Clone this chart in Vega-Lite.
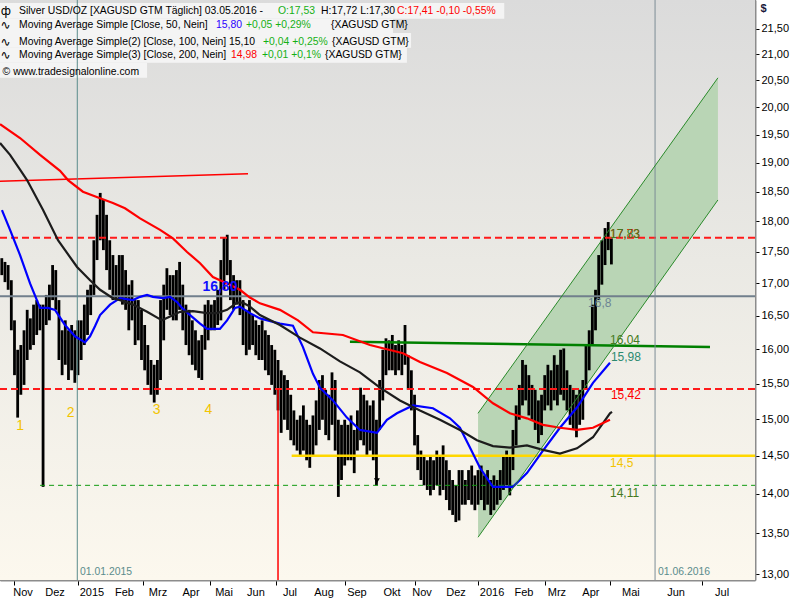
{
  "$schema": "https://vega.github.io/schema/vega-lite/v6.json",
  "width": 755,
  "height": 580,
  "autosize": "none",
  "padding": {"left": 0, "top": 0, "right": 45, "bottom": 20},
  "background": "#ffffff",
  "config": {"view": {"stroke": "#8c8c8c", "strokeWidth": 2}, "font": "Liberation Sans"},
  "datasets": {
    "bars": [
      {"t":-48,"h":17.40,"l":17.13},{"t":-46,"h":17.34,"l":17.02},{"t":-44,"h":17.29,"l":16.90},{"t":-42,"h":17.05,"l":16.28},
      {"t":-40,"h":16.43,"l":15.62},{"t":-38,"h":15.99,"l":15.02},{"t":-36,"h":16.06,"l":15.34},{"t":-34,"h":16.28,"l":15.48},
      {"t":-32,"h":16.59,"l":15.84},{"t":-30,"h":16.46,"l":15.99},{"t":-28,"h":16.67,"l":16.06},{"t":-26,"h":16.74,"l":16.21},
      {"t":-24,"h":16.67,"l":16.28},{"t":-22,"h":16.67,"l":14.09},{"t":-20,"h":16.82,"l":16.36},{"t":-18,"h":16.98,"l":16.43},
      {"t":-16,"h":17.29,"l":16.74},{"t":-14,"h":17.21,"l":16.59},{"t":-12,"h":16.74,"l":15.84},{"t":-10,"h":16.28,"l":15.62},
      {"t":-8,"h":16.43,"l":15.77},{"t":-6,"h":16.28,"l":15.55},{"t":-4,"h":16.36,"l":15.69},{"t":-2,"h":16.28,"l":15.51},
      {"t":0,"h":16.43,"l":15.62},{"t":2,"h":16.43,"l":15.84},{"t":4,"h":16.67,"l":16.06},{"t":6,"h":16.90,"l":16.21},
      {"t":8,"h":16.98,"l":16.51},{"t":10,"h":17.69,"l":16.82},{"t":12,"h":18.11,"l":17.37},{"t":14,"h":18.48,"l":17.69},
      {"t":16,"h":18.36,"l":17.53},{"t":18,"h":18.11,"l":17.21},{"t":20,"h":17.69,"l":16.90},{"t":22,"h":17.45,"l":16.74},
      {"t":24,"h":17.29,"l":16.74},{"t":26,"h":17.45,"l":16.74},{"t":28,"h":17.45,"l":16.67},{"t":30,"h":17.21,"l":16.59},
      {"t":32,"h":16.98,"l":16.28},{"t":34,"h":17.05,"l":16.43},{"t":36,"h":16.74,"l":16.06},{"t":38,"h":16.74,"l":16.13},
      {"t":40,"h":16.59,"l":15.84},{"t":42,"h":16.36,"l":15.69},{"t":44,"h":16.06,"l":15.48},{"t":46,"h":15.84,"l":15.34},
      {"t":48,"h":15.77,"l":15.23},{"t":50,"h":15.84,"l":15.34},{"t":52,"h":16.74,"l":15.55},{"t":54,"h":16.98,"l":16.13},
      {"t":56,"h":17.24,"l":16.59},{"t":58,"h":17.13,"l":16.51},{"t":60,"h":17.13,"l":16.43},{"t":62,"h":17.21,"l":16.43},
      {"t":64,"h":17.34,"l":16.59},{"t":66,"h":16.98,"l":16.28},{"t":68,"h":16.67,"l":16.06},{"t":70,"h":16.59,"l":15.91},
      {"t":72,"h":16.43,"l":15.77},{"t":74,"h":16.28,"l":15.69},{"t":76,"h":16.13,"l":15.58},{"t":78,"h":16.21,"l":15.55},
      {"t":80,"h":16.67,"l":15.99},{"t":82,"h":16.74,"l":16.13},{"t":84,"h":16.67,"l":16.28},{"t":86,"h":16.74,"l":16.28},
      {"t":88,"h":16.90,"l":16.36},{"t":90,"h":17.37,"l":16.43},{"t":92,"h":17.74,"l":16.90},{"t":94,"h":17.78,"l":17.13},
      {"t":96,"h":17.37,"l":16.74},{"t":98,"h":17.13,"l":16.59},{"t":100,"h":17.05,"l":16.67},{"t":102,"h":17.05,"l":16.51},
      {"t":104,"h":16.74,"l":16.06},{"t":106,"h":16.59,"l":15.91},{"t":108,"h":16.74,"l":15.99},{"t":110,"h":16.51,"l":16.06},
      {"t":112,"h":16.43,"l":15.91},{"t":114,"h":16.36,"l":15.84},{"t":116,"h":16.43,"l":15.84},{"t":118,"h":16.28,"l":15.69},
      {"t":120,"h":16.21,"l":15.62},{"t":122,"h":16.06,"l":15.48},{"t":124,"h":15.99,"l":15.34},{"t":126,"h":15.84,"l":15.12},
      {"t":128,"h":15.69,"l":14.81},{"t":130,"h":15.62,"l":14.99},{"t":132,"h":15.55,"l":14.85},{"t":134,"h":15.34,"l":14.71},
      {"t":136,"h":15.12,"l":14.64},{"t":138,"h":14.99,"l":14.57},{"t":140,"h":15.05,"l":14.50},{"t":142,"h":15.19,"l":14.57},
      {"t":144,"h":14.99,"l":14.44},{"t":146,"h":14.92,"l":14.34},{"t":148,"h":15.05,"l":14.50},{"t":150,"h":15.26,"l":14.64},
      {"t":152,"h":15.55,"l":14.85},{"t":154,"h":15.62,"l":14.99},{"t":156,"h":15.41,"l":14.78},{"t":158,"h":15.34,"l":14.71},
      {"t":160,"h":15.66,"l":14.92},{"t":162,"h":15.55,"l":14.57},{"t":164,"h":14.99,"l":13.96},{"t":166,"h":14.92,"l":14.18},
      {"t":168,"h":14.99,"l":14.37},{"t":170,"h":14.92,"l":14.44},{"t":172,"h":15.05,"l":14.44},{"t":174,"h":14.85,"l":14.27},
      {"t":176,"h":15.12,"l":14.57},{"t":178,"h":15.44,"l":14.71},{"t":180,"h":15.34,"l":14.64},{"t":182,"h":15.26,"l":14.50},
      {"t":184,"h":15.19,"l":14.57},{"t":186,"h":15.26,"l":14.44},{"t":188,"h":14.99,"l":14.11},{"t":190,"h":15.55,"l":14.85},
      {"t":192,"h":15.99,"l":15.26},{"t":194,"h":16.16,"l":15.62},{"t":196,"h":16.13,"l":15.69},{"t":198,"h":16.21,"l":15.69},
      {"t":200,"h":16.06,"l":15.62},{"t":202,"h":16.13,"l":15.69},{"t":204,"h":16.06,"l":15.62},{"t":206,"h":16.36,"l":15.77},
      {"t":208,"h":15.91,"l":15.41},{"t":210,"h":15.69,"l":15.12},{"t":212,"h":15.34,"l":14.64},{"t":214,"h":14.78,"l":14.31},
      {"t":216,"h":14.57,"l":14.18},{"t":218,"h":14.50,"l":14.11},{"t":220,"h":14.44,"l":14.05},{"t":222,"h":14.50,"l":13.98},
      {"t":224,"h":14.44,"l":14.05},{"t":226,"h":14.57,"l":14.11},{"t":228,"h":14.50,"l":13.98},{"t":230,"h":14.64,"l":14.05},
      {"t":232,"h":14.44,"l":13.92},{"t":234,"h":14.31,"l":13.79},{"t":236,"h":14.18,"l":13.73},{"t":238,"h":14.11,"l":13.64},
      {"t":240,"h":14.31,"l":13.66},{"t":242,"h":14.31,"l":13.86},{"t":244,"h":14.18,"l":13.86},{"t":246,"h":14.31,"l":13.92},
      {"t":248,"h":14.37,"l":13.86},{"t":250,"h":14.24,"l":13.79},{"t":252,"h":14.31,"l":13.86},{"t":254,"h":14.37,"l":13.92},
      {"t":256,"h":14.24,"l":13.79},{"t":258,"h":14.31,"l":13.86},{"t":260,"h":14.18,"l":13.73},{"t":262,"h":14.24,"l":13.79},
      {"t":264,"h":14.18,"l":13.86},{"t":266,"h":14.31,"l":13.92},{"t":268,"h":14.50,"l":14.05},{"t":270,"h":14.57,"l":14.11},
      {"t":272,"h":14.50,"l":13.98},{"t":274,"h":14.85,"l":14.31},{"t":276,"h":15.19,"l":14.64},{"t":278,"h":15.48,"l":14.99},
      {"t":280,"h":15.84,"l":15.19},{"t":282,"h":15.77,"l":15.26},{"t":284,"h":15.62,"l":15.05},{"t":286,"h":15.48,"l":14.99},
      {"t":288,"h":15.41,"l":14.85},{"t":290,"h":15.26,"l":14.67},{"t":292,"h":15.34,"l":14.78},{"t":294,"h":15.62,"l":15.12},
      {"t":296,"h":15.77,"l":15.19},{"t":298,"h":15.69,"l":15.12},{"t":300,"h":15.91,"l":15.26},{"t":302,"h":15.77,"l":15.19},
      {"t":304,"h":15.99,"l":15.34},{"t":306,"h":16.01,"l":15.26},{"t":308,"h":15.69,"l":15.12},{"t":310,"h":15.48,"l":14.92},
      {"t":312,"h":15.41,"l":14.85},{"t":314,"h":15.34,"l":14.75},{"t":316,"h":15.41,"l":14.92},{"t":318,"h":15.55,"l":14.99},
      {"t":320,"h":16.06,"l":15.41},{"t":322,"h":16.28,"l":15.69},{"t":324,"h":16.67,"l":16.06},{"t":326,"h":16.90,"l":16.28},
      {"t":328,"h":17.45,"l":16.74},{"t":330,"h":17.69,"l":16.98},{"t":332,"h":17.89,"l":17.29},{"t":334,"h":17.99,"l":17.53},
      {"t":336,"h":17.72,"l":17.30}
    ],
    "ma": [
      {"n":"SMA 50","t":-47.9,"p":18.19},{"n":"SMA 50","t":-42.8,"p":17.86},{"n":"SMA 50","t":-36.5,"p":17.45},{"n":"SMA 50","t":-30.2,"p":17.00},
      {"n":"SMA 50","t":-23.9,"p":16.62},{"n":"SMA 50","t":-18.9,"p":16.62},{"n":"SMA 50","t":-14.5,"p":16.59},{"n":"SMA 50","t":-8.2,"p":16.36},
      {"n":"SMA 50","t":-1.9,"p":16.19},{"n":"SMA 50","t":4.4,"p":16.10},{"n":"SMA 50","t":7.6,"p":16.19},{"n":"SMA 50","t":10.7,"p":16.34},
      {"n":"SMA 50","t":13.9,"p":16.51},{"n":"SMA 50","t":20.2,"p":16.67},{"n":"SMA 50","t":26.5,"p":16.77},{"n":"SMA 50","t":34.6,"p":16.74},
      {"n":"SMA 50","t":39.1,"p":16.79},{"n":"SMA 50","t":43.5,"p":16.82},{"n":"SMA 50","t":47.2,"p":16.79},{"n":"SMA 50","t":53.5,"p":16.77},
      {"n":"SMA 50","t":58.0,"p":16.79},{"n":"SMA 50","t":62.4,"p":16.71},{"n":"SMA 50","t":65.5,"p":16.62},{"n":"SMA 50","t":70.6,"p":16.51},
      {"n":"SMA 50","t":76.9,"p":16.38},{"n":"SMA 50","t":81.3,"p":16.30},{"n":"SMA 50","t":89.4,"p":16.30},{"n":"SMA 50","t":93.9,"p":16.43},
      {"n":"SMA 50","t":98.9,"p":16.62},{"n":"SMA 50","t":102.0,"p":16.64},{"n":"SMA 50","t":108.3,"p":16.54},{"n":"SMA 50","t":114.6,"p":16.46},
      {"n":"SMA 50","t":127.2,"p":16.38},{"n":"SMA 50","t":135.4,"p":16.35},{"n":"SMA 50","t":141.7,"p":16.03},{"n":"SMA 50","t":148.0,"p":15.64},
      {"n":"SMA 50","t":152.4,"p":15.44},{"n":"SMA 50","t":160.6,"p":15.26},{"n":"SMA 50","t":169.4,"p":15.02},{"n":"SMA 50","t":177.6,"p":14.85},
      {"n":"SMA 50","t":188.3,"p":14.81},{"n":"SMA 50","t":194.6,"p":14.99},{"n":"SMA 50","t":200.9,"p":15.08},{"n":"SMA 50","t":211.0,"p":15.19},
      {"n":"SMA 50","t":223.6,"p":15.15},{"n":"SMA 50","t":234.3,"p":15.01},{"n":"SMA 50","t":240.6,"p":14.88},{"n":"SMA 50","t":246.9,"p":14.61},
      {"n":"SMA 50","t":253.2,"p":14.34},{"n":"SMA 50","t":261.4,"p":14.09},{"n":"SMA 50","t":274.0,"p":14.09},{"n":"SMA 50","t":282.8,"p":14.27},
      {"n":"SMA 50","t":292.9,"p":14.57},{"n":"SMA 50","t":303.6,"p":14.88},{"n":"SMA 50","t":314.3,"p":15.16},{"n":"SMA 50","t":324.4,"p":15.51},
      {"n":"SMA 50","t":335.1,"p":15.80},
      {"n":"SMA 100","t":-49.1,"p":19.35},{"n":"SMA 100","t":-42.8,"p":19.14},{"n":"SMA 100","t":-36.5,"p":18.88},{"n":"SMA 100","t":-32.1,"p":18.70},
      {"n":"SMA 100","t":-22.0,"p":18.19},{"n":"SMA 100","t":-12.6,"p":17.69},{"n":"SMA 100","t":-0.6,"p":17.26},{"n":"SMA 100","t":7.6,"p":17.05},
      {"n":"SMA 100","t":13.9,"p":16.90},{"n":"SMA 100","t":22.0,"p":16.77},{"n":"SMA 100","t":26.5,"p":16.74},{"n":"SMA 100","t":34.6,"p":16.67},
      {"n":"SMA 100","t":43.5,"p":16.56},{"n":"SMA 100","t":52.9,"p":16.43},{"n":"SMA 100","t":58.0,"p":16.49},{"n":"SMA 100","t":64.3,"p":16.56},
      {"n":"SMA 100","t":72.4,"p":16.57},{"n":"SMA 100","t":81.3,"p":16.54},{"n":"SMA 100","t":87.6,"p":16.54},{"n":"SMA 100","t":93.9,"p":16.59},
      {"n":"SMA 100","t":100.2,"p":16.70},{"n":"SMA 100","t":103.9,"p":16.70},{"n":"SMA 100","t":108.3,"p":16.64},{"n":"SMA 100","t":114.6,"p":16.51},
      {"n":"SMA 100","t":127.2,"p":16.36},{"n":"SMA 100","t":139.8,"p":16.17},{"n":"SMA 100","t":152.4,"p":16.01},{"n":"SMA 100","t":165.0,"p":15.82},
      {"n":"SMA 100","t":177.6,"p":15.66},{"n":"SMA 100","t":190.2,"p":15.44},{"n":"SMA 100","t":202.8,"p":15.26},{"n":"SMA 100","t":215.4,"p":15.12},
      {"n":"SMA 100","t":228.0,"p":14.99},{"n":"SMA 100","t":240.6,"p":14.85},{"n":"SMA 100","t":251.3,"p":14.71},{"n":"SMA 100","t":261.4,"p":14.63},
      {"n":"SMA 100","t":272.1,"p":14.61},{"n":"SMA 100","t":282.8,"p":14.64},{"n":"SMA 100","t":292.9,"p":14.58},{"n":"SMA 100","t":303.6,"p":14.53},
      {"n":"SMA 100","t":314.3,"p":14.60},{"n":"SMA 100","t":324.4,"p":14.75},{"n":"SMA 100","t":335.1,"p":15.08},{"n":"SMA 100","t":336.4,"p":15.10},
      {"n":"SMA 200","t":-49.1,"p":19.69},{"n":"SMA 200","t":-36.5,"p":19.44},{"n":"SMA 200","t":-23.9,"p":19.14},{"n":"SMA 200","t":-11.3,"p":18.86},
      {"n":"SMA 200","t":-6.3,"p":18.70},{"n":"SMA 200","t":3.1,"p":18.50},{"n":"SMA 200","t":13.9,"p":18.39},{"n":"SMA 200","t":22.0,"p":18.31},
      {"n":"SMA 200","t":29.6,"p":18.22},{"n":"SMA 200","t":39.1,"p":18.05},{"n":"SMA 200","t":51.7,"p":17.86},{"n":"SMA 200","t":59.8,"p":17.72},
      {"n":"SMA 200","t":68.7,"p":17.50},{"n":"SMA 200","t":76.9,"p":17.32},{"n":"SMA 200","t":85.0,"p":17.10},{"n":"SMA 200","t":93.9,"p":17.00},
      {"n":"SMA 200","t":102.0,"p":16.90},{"n":"SMA 200","t":108.3,"p":16.78},{"n":"SMA 200","t":114.6,"p":16.69},{"n":"SMA 200","t":127.2,"p":16.59},
      {"n":"SMA 200","t":138.6,"p":16.43},{"n":"SMA 200","t":148.0,"p":16.25},{"n":"SMA 200","t":166.9,"p":16.21},{"n":"SMA 200","t":183.9,"p":16.06},
      {"n":"SMA 200","t":204.7,"p":15.94},{"n":"SMA 200","t":215.4,"p":15.81},{"n":"SMA 200","t":232.4,"p":15.65},{"n":"SMA 200","t":248.8,"p":15.45},
      {"n":"SMA 200","t":261.4,"p":15.22},{"n":"SMA 200","t":272.1,"p":15.08},{"n":"SMA 200","t":282.8,"p":15.01},{"n":"SMA 200","t":292.9,"p":14.92},
      {"n":"SMA 200","t":303.6,"p":14.88},{"n":"SMA 200","t":314.3,"p":14.85},{"n":"SMA 200","t":324.4,"p":14.88},{"n":"SMA 200","t":335.1,"p":14.99}
    ],
    "levels": [
      {"line":"resistance","t":-49.13,"t2":426.46,"p":17.73,"p2":17.73},
      {"line":"resistance","t":-49.13,"t2":426.46,"p":15.42,"p2":15.42},
      {"line":"pivot","t":-49.13,"t2":426.46,"p":16.8,"p2":16.8},
      {"line":"trend","t":-49.13,"t2":107.1,"p":18.68,"p2":18.81},
      {"line":"neckline","t":171.3,"t2":398.1,"p":16.11,"p2":16.03},
      {"line":"base","t":134.6,"t2":426.46,"p":14.5,"p2":14.5},
      {"line":"floor","t":-23.9,"t2":426.46,"p":14.11,"p2":14.11},
      {"line":"year","t":-0.44,"t2":-0.44,"p":12.93,"p2":22.08},
      {"line":"target","t":363.5,"t2":363.5,"p":12.93,"p2":22.08},
      {"line":"split","t":126.0,"t2":126.0,"p":15.42,"p2":12.93}
    ],
    "channel": [
      {"t":252.0,"p":15.08,"p2":13.45},
      {"t":403.1,"p":20.55,"p2":18.36}
    ],
    "channelEdges": [
      {"t":252.0,"t2":403.1,"p":15.08,"p2":20.55},
      {"t":252.0,"t2":403.1,"p":13.45,"p2":18.36}
    ],
    "boxes": [
      {"t":-49.13,"t2":268.5,"p":22.02,"p2":21.70},
      {"t":-49.13,"t2":198.4,"p":21.70,"p2":21.42},
      {"t":-49.13,"t2":209.8,"p":21.42,"p2":21.13},
      {"t":-49.13,"t2":207.2,"p":21.13,"p2":20.84},
      {"t":-49.13,"t2":43.5,"p":20.84,"p2":20.55}
    ],
    "header": [
      {"t":-37.17,"p":21.85,"s":"Silver USD/OZ [XAGUSD GTM  Täglich] 03.05.2016 -","k":"plain"},
      {"t":125.98,"p":21.85,"s":"O:17,53","k":"gain"},
      {"t":153.07,"p":21.85,"s":"H:17,72 L:17,30","k":"plain"},
      {"t":200.94,"p":21.85,"s":"C:17,41 -0,10 -0,55%","k":"loss"},
      {"t":-37.17,"p":21.57,"s":"Moving Average Simple [Close, 50, Nein]","k":"plain"},
      {"t":86.93,"p":21.57,"s":"15,80","k":"ma50"},
      {"t":105.83,"p":21.57,"s":"+0,05 +0,29%","k":"gain"},
      {"t":159.37,"p":21.57,"s":"{XAGUSD GTM}","k":"plain"},
      {"t":-37.17,"p":21.25,"s":"Moving Average Simple(2) [Close, 100, Nein] 15,10","k":"plain"},
      {"t":116.54,"p":21.25,"s":"+0,04 +0,25%","k":"gain"},
      {"t":160.0,"p":21.25,"s":"{XAGUSD GTM}","k":"plain"},
      {"t":-37.17,"p":20.99,"s":"Moving Average Simple(3) [Close, 200, Nein]","k":"plain"},
      {"t":96.38,"p":20.99,"s":"14,98","k":"loss"},
      {"t":115.91,"p":20.99,"s":"+0,01 +0,1%","k":"gain"},
      {"t":155.59,"p":20.99,"s":"{XAGUSD GTM}","k":"plain"},
      {"t":-47.5,"p":20.67,"s":"© www.tradesignalonline.com","k":"plain"},
      {"t":1.26,"p":13.02,"s":"01.01.2015","k":"date"},
      {"t":365.4,"p":13.02,"s":"01.06.2016","k":"date"}
    ],
    "icons": [
      {"t":-45.4,"p":21.85,"s":"ф"},
      {"t":-45.6,"p":21.57,"s":"∿"},
      {"t":-45.6,"p":21.25,"s":"∿"},
      {"t":-45.6,"p":20.99,"s":"∿"}
    ],
    "levelLabels": [
      {"t":335.1,"p":17.80,"s":"17,73","k":"loss"},
      {"t":335.1,"p":17.80,"s":"17,83","k":"lvgreen"},
      {"t":321.3,"p":16.69,"s":"16,8","k":"gray"},
      {"t":335.1,"p":16.13,"s":"16,04","k":"lvgreen"},
      {"t":335.7,"p":15.88,"s":"15,98","k":"teal"},
      {"t":335.7,"p":15.34,"s":"15,42","k":"loss"},
      {"t":335.1,"p":14.41,"s":"14,5","k":"gold"},
      {"t":335.1,"p":14.01,"s":"14,11","k":"lvgreen"}
    ],
    "counts": [
      {"t":-36.5,"p":14.91,"s":"1"},
      {"t":-4.6,"p":15.08,"s":"2"},
      {"t":49.6,"p":15.13,"s":"3"},
      {"t":82.1,"p":15.13,"s":"4"}
    ],
    "months": [
      {"t":-34.6,"p":12.77,"s":"Nov"},{"t":-14.5,"p":12.77,"s":"Dez"},{"t":8.8,"p":12.77,"s":"2015"},
      {"t":29.3,"p":12.77,"s":"Feb"},{"t":50.4,"p":12.77,"s":"Mrz"},{"t":71.2,"p":12.77,"s":"Apr"},
      {"t":92.0,"p":12.77,"s":"Mai"},{"t":112.1,"p":12.77,"s":"Jun"},{"t":133.5,"p":12.77,"s":"Jul"},
      {"t":155.0,"p":12.77,"s":"Aug"},{"t":175.7,"p":12.77,"s":"Sep"},{"t":197.8,"p":12.77,"s":"Okt"},
      {"t":216.7,"p":12.77,"s":"Nov"},{"t":238.1,"p":12.77,"s":"Dez"},{"t":260.8,"p":12.77,"s":"2016"},
      {"t":280.9,"p":12.77,"s":"Feb"},{"t":301.7,"p":12.77,"s":"Mrz"},{"t":323.1,"p":12.77,"s":"Apr"},
      {"t":348.3,"p":12.77,"s":"Mai"},{"t":376.7,"p":12.77,"s":"Jun"},{"t":405.7,"p":12.77,"s":"Jul"}
    ]
  },
  "layer": [
    {
      "data": {"values": [{"t": -49.13, "t2": 426.46, "p": 22.08, "p2": 12.93}]},
      "mark": {"type": "rect", "clip": true, "fill": {"gradient": "linear", "x1": 0, "y1": 0, "x2": 0, "y2": 1, "stops": [{"offset": 0, "color": "#dbdbdb"}, {"offset": 0.45, "color": "#eae9e4"}, {"offset": 1, "color": "#fcf8ee"}]}},
      "encoding": {
        "x": {"field": "t", "type": "quantitative", "scale": {"domain": [-49.13, 426.46], "nice": false, "zero": false},
          "axis": {"title": null, "grid": false, "domain": true, "domainColor": "#8c8c8c", "domainWidth": 2,
            "values": [-40, -22, 0, 21, 41, 62, 83, 104, 125, 147, 168, 189, 212, 230, 252, 272, 294, 314, 335, 364, 393],
            "labels": false, "tickSize": 5, "tickColor": "#000000", "tickWidth": 1}},
        "x2": {"field": "t2"},
        "y": {"field": "p", "type": "quantitative", "scale": {"type": "log", "domain": [12.93, 22.08], "nice": false},
          "axis": {"title": "$", "orient": "right", "grid": false, "domain": true, "domainColor": "#8c8c8c", "domainWidth": 2,
            "values": [13, 13.5, 14, 14.5, 15, 15.5, 16, 16.5, 17, 17.5, 18, 18.5, 19, 19.5, 20, 20.5, 21, 21.5],
            "labelExpr": "replace(format(datum.value, '.2f'), '.', ',')",
            "tickSize": 4, "tickColor": "#000000", "labelPadding": 2, "labelFontSize": 11, "labelColor": "#000000",
            "labelFlush": false, "labelOverlap": false,
            "titleAngle": 0, "titleX": 5, "titleY": 8, "titleAlign": "left", "titleBaseline": "middle", "titleFontSize": 11, "titleFontWeight": "bold", "titleColor": "#1a1a3a"}},
        "y2": {"field": "p2"}
      }
    },
    {
      "data": {"name": "boxes"},
      "mark": {"type": "rect", "clip": true, "fill": "#f4f4f4"},
      "encoding": {"x": {"field": "t", "type": "quantitative"}, "x2": {"field": "t2"}, "y": {"field": "p", "type": "quantitative"}, "y2": {"field": "p2"}}
    },
    {
      "data": {"name": "channel"},
      "mark": {"type": "area", "clip": true, "fill": "#b9d5b5", "opacity": 1},
      "encoding": {"x": {"field": "t", "type": "quantitative"}, "y": {"field": "p", "type": "quantitative"}, "y2": {"field": "p2"}}
    },
    {
      "data": {"name": "bars"},
      "mark": {"type": "rule", "clip": true, "color": "#000000", "strokeWidth": 2.8},
      "encoding": {"x": {"field": "t", "type": "quantitative"}, "y": {"field": "h", "type": "quantitative"}, "y2": {"field": "l"}}
    },
    {
      "data": {"name": "levels"},
      "transform": [{"filter": "datum.line == 'resistance'"}],
      "mark": {"type": "rule", "clip": true, "color": "#ff1a1a", "strokeWidth": 2, "strokeDash": [7, 4]},
      "encoding": {"x": {"field": "t", "type": "quantitative"}, "x2": {"field": "t2"}, "y": {"field": "p", "type": "quantitative"}, "y2": {"field": "p2"}}
    },
    {
      "data": {"name": "levels"},
      "transform": [{"filter": "datum.line == 'pivot'"}],
      "mark": {"type": "rule", "clip": true, "color": "#717f8c", "strokeWidth": 2},
      "encoding": {"x": {"field": "t", "type": "quantitative"}, "x2": {"field": "t2"}, "y": {"field": "p", "type": "quantitative"}, "y2": {"field": "p2"}}
    },
    {
      "data": {"name": "levels"},
      "transform": [{"filter": "datum.line == 'trend' || datum.line == 'split'"}],
      "mark": {"type": "rule", "clip": true, "color": "#ff0000", "strokeWidth": 1.5},
      "encoding": {"x": {"field": "t", "type": "quantitative"}, "x2": {"field": "t2"}, "y": {"field": "p", "type": "quantitative"}, "y2": {"field": "p2"}}
    },
    {
      "data": {"name": "levels"},
      "transform": [{"filter": "datum.line == 'neckline'"}],
      "mark": {"type": "rule", "clip": true, "color": "#008000", "strokeWidth": 2.5},
      "encoding": {"x": {"field": "t", "type": "quantitative"}, "x2": {"field": "t2"}, "y": {"field": "p", "type": "quantitative"}, "y2": {"field": "p2"}}
    },
    {
      "data": {"name": "levels"},
      "transform": [{"filter": "datum.line == 'base'"}],
      "mark": {"type": "rule", "clip": true, "color": "#ffd700", "strokeWidth": 2.5},
      "encoding": {"x": {"field": "t", "type": "quantitative"}, "x2": {"field": "t2"}, "y": {"field": "p", "type": "quantitative"}, "y2": {"field": "p2"}}
    },
    {
      "data": {"name": "levels"},
      "transform": [{"filter": "datum.line == 'floor'"}],
      "mark": {"type": "rule", "clip": true, "color": "#109a10", "strokeWidth": 1, "strokeDash": [5, 4]},
      "encoding": {"x": {"field": "t", "type": "quantitative"}, "x2": {"field": "t2"}, "y": {"field": "p", "type": "quantitative"}, "y2": {"field": "p2"}}
    },
    {
      "data": {"name": "levels"},
      "transform": [{"filter": "datum.line == 'year'"}],
      "mark": {"type": "rule", "clip": true, "color": "#5a8c8c", "strokeWidth": 1},
      "encoding": {"x": {"field": "t", "type": "quantitative"}, "x2": {"field": "t2"}, "y": {"field": "p", "type": "quantitative"}, "y2": {"field": "p2"}}
    },
    {
      "data": {"name": "levels"},
      "transform": [{"filter": "datum.line == 'target'"}],
      "mark": {"type": "rule", "clip": true, "color": "#7d8c96", "strokeWidth": 1},
      "encoding": {"x": {"field": "t", "type": "quantitative"}, "x2": {"field": "t2"}, "y": {"field": "p", "type": "quantitative"}, "y2": {"field": "p2"}}
    },
    {
      "data": {"name": "ma"},
      "mark": {"type": "line", "clip": true, "strokeWidth": 2.2},
      "encoding": {
        "x": {"field": "t", "type": "quantitative"},
        "y": {"field": "p", "type": "quantitative"},
        "stroke": {"field": "n", "type": "nominal", "scale": {"domain": ["SMA 50", "SMA 100", "SMA 200"], "range": ["#0000ff", "#1c1c1c", "#ff0000"]}, "legend": null}
      }
    },
    {
      "data": {"name": "channelEdges"},
      "mark": {"type": "rule", "clip": true, "color": "#2a8a2a", "strokeWidth": 1},
      "encoding": {"x": {"field": "t", "type": "quantitative"}, "x2": {"field": "t2"}, "y": {"field": "p", "type": "quantitative"}, "y2": {"field": "p2"}}
    },
    {
      "data": {"values": [{"t": 188.3, "p": 14.17}]},
      "mark": {"type": "point", "shape": "triangle-down", "filled": true, "color": "#000000", "size": 35, "opacity": 1},
      "encoding": {"x": {"field": "t", "type": "quantitative"}, "y": {"field": "p", "type": "quantitative"}}
    },
    {
      "data": {"name": "icons"},
      "mark": {"type": "text", "align": "center", "baseline": "middle", "fontSize": 12, "font": "DejaVu Sans", "color": "#000000"},
      "encoding": {"x": {"field": "t", "type": "quantitative"}, "y": {"field": "p", "type": "quantitative"}, "text": {"field": "s"}}
    },
    {
      "data": {"name": "header"},
      "mark": {"type": "text", "align": "left", "baseline": "middle", "fontSize": 10.4},
      "encoding": {
        "x": {"field": "t", "type": "quantitative"},
        "y": {"field": "p", "type": "quantitative"},
        "text": {"field": "s"},
        "fill": {"field": "k", "type": "nominal", "scale": {"domain": ["plain", "gain", "loss", "ma50", "gold", "lvgreen", "teal", "gray", "date"], "range": ["#000000", "#14b014", "#ff0000", "#2a00ff", "#f2c400", "#447a20", "#2c8a70", "#6d8494", "#5a8c8c"]}, "legend": null}
      }
    },
    {
      "data": {"name": "levelLabels"},
      "mark": {"type": "text", "align": "left", "baseline": "middle", "fontSize": 12},
      "encoding": {
        "x": {"field": "t", "type": "quantitative"},
        "y": {"field": "p", "type": "quantitative"},
        "text": {"field": "s"},
        "fill": {"field": "k", "type": "nominal", "legend": null}
      }
    },
    {
      "data": {"name": "counts"},
      "mark": {"type": "text", "align": "center", "baseline": "middle", "fontSize": 14, "color": "#f2c400"},
      "encoding": {"x": {"field": "t", "type": "quantitative"}, "y": {"field": "p", "type": "quantitative"}, "text": {"field": "s"}}
    },
    {
      "data": {"values": [{"t": 89.4, "p": 16.94, "s": "16,80"}]},
      "mark": {"type": "text", "align": "center", "baseline": "middle", "fontSize": 14, "fontWeight": "bold", "color": "#1010ff"},
      "encoding": {"x": {"field": "t", "type": "quantitative"}, "y": {"field": "p", "type": "quantitative"}, "text": {"field": "s"}}
    },
    {
      "data": {"name": "months"},
      "mark": {"type": "text", "align": "center", "baseline": "middle", "fontSize": 11, "color": "#000000", "clip": false},
      "encoding": {"x": {"field": "t", "type": "quantitative"}, "y": {"field": "p", "type": "quantitative"}, "text": {"field": "s"}}
    }
  ]
}
